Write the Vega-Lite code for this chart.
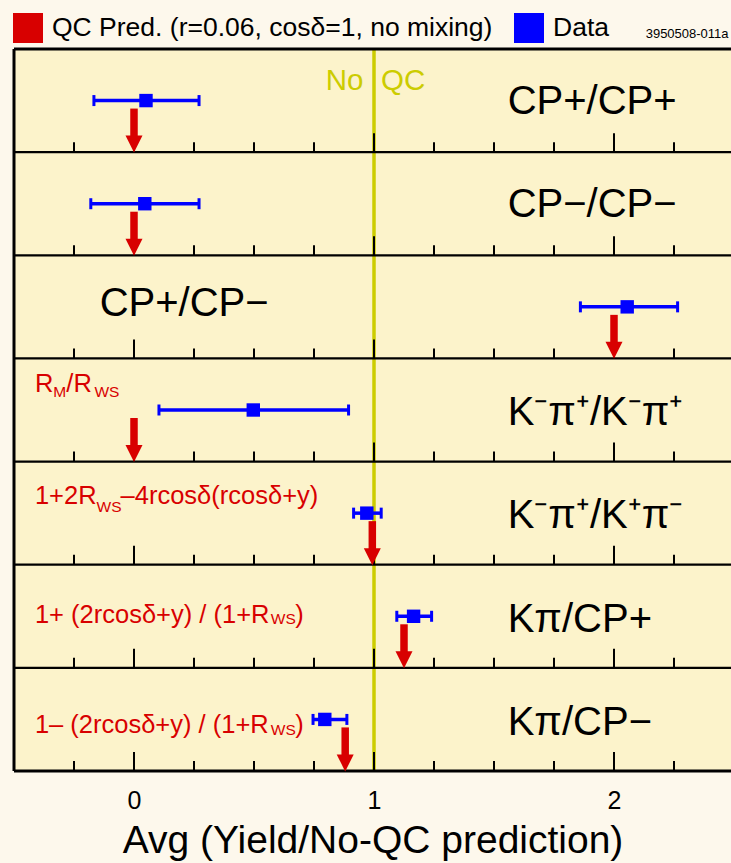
{
  "$schema": "https://vega.github.io/schema/vega-lite/v6.json",
  "width": 717,
  "height": 722,
  "autosize": {"type": "none"},
  "padding": {"left": 14, "top": 49, "right": 0, "bottom": 92},
  "background": "#fdf8ec",
  "config": {
    "view": {"fill": "#fcf3cb", "stroke": null},
    "font": "Liberation Sans",
    "legend": {
      "orient": "none",
      "legendX": -1,
      "legendY": -36,
      "direction": "horizontal",
      "symbolType": "square",
      "symbolSize": 900,
      "symbolStrokeWidth": 0,
      "symbolOpacity": 1,
      "labelFontSize": 26.5,
      "labelFont": "Liberation Sans",
      "labelColor": "#000000",
      "labelOffset": 9,
      "labelLimit": 0,
      "columnPadding": 21,
      "padding": 0
    }
  },
  "datasets": {
    "panels": [
      {"panel": 1, "channel": "CP+/CP+", "val": 0.05, "lo": -0.167, "hi": 0.271, "pred": 0},
      {"panel": 2, "channel": "CP−/CP−", "val": 0.045, "lo": -0.18, "hi": 0.271, "pred": 0},
      {"panel": 3, "channel": "CP+/CP−", "val": 2.055, "lo": 1.86, "hi": 2.265, "pred": 2},
      {"panel": 4, "channel": "K⁻π⁺/K⁻π⁺", "val": 0.497, "lo": 0.104, "hi": 0.894, "pred": 0},
      {"panel": 5, "channel": "K⁻π⁺/K⁺π⁻", "val": 0.97, "lo": 0.915, "hi": 1.03, "pred": 0.993},
      {"panel": 6, "channel": "Kπ/CP+", "val": 1.165, "lo": 1.095, "hi": 1.24, "pred": 1.125},
      {"panel": 7, "channel": "Kπ/CP−", "val": 0.795, "lo": 0.746, "hi": 0.887, "pred": 0.88}
    ],
    "ticks": [
      {"x": -0.25, "major": false, "edge": [1.5, 2.5, 3.5, 4.5, 5.5, 6.5, 7.5]},
      {"x": 0, "major": true, "edge": [1.5, 2.5, 3.5, 4.5, 5.5, 6.5, 7.5]},
      {"x": 0.25, "major": false, "edge": [1.5, 2.5, 3.5, 4.5, 5.5, 6.5, 7.5]},
      {"x": 0.5, "major": false, "edge": [1.5, 2.5, 3.5, 4.5, 5.5, 6.5, 7.5]},
      {"x": 0.75, "major": false, "edge": [1.5, 2.5, 3.5, 4.5, 5.5, 6.5, 7.5]},
      {"x": 1, "major": true, "edge": [1.5, 2.5, 3.5, 4.5, 5.5, 6.5, 7.5]},
      {"x": 1.25, "major": false, "edge": [1.5, 2.5, 3.5, 4.5, 5.5, 6.5, 7.5]},
      {"x": 1.5, "major": false, "edge": [1.5, 2.5, 3.5, 4.5, 5.5, 6.5, 7.5]},
      {"x": 1.75, "major": false, "edge": [1.5, 2.5, 3.5, 4.5, 5.5, 6.5, 7.5]},
      {"x": 2, "major": true, "edge": [1.5, 2.5, 3.5, 4.5, 5.5, 6.5, 7.5]},
      {"x": 2.25, "major": false, "edge": [1.5, 2.5, 3.5, 4.5, 5.5, 6.5, 7.5]}
    ],
    "notes": [
      {"role": "label", "text": "CP+/CP+", "x": 1.557, "y": 1.13},
      {"role": "label", "text": "CP−/CP−", "x": 1.557, "y": 2.126},
      {"role": "label", "text": "CP+/CP−", "x": -0.143, "y": 3.087},
      {"role": "label", "text": "K⁻π⁺/K⁻π⁺", "x": 1.557, "y": 4.146},
      {"role": "label", "text": "K⁻π⁺/K⁺π⁻", "x": 1.557, "y": 5.146},
      {"role": "label", "text": "Kπ/CP+", "x": 1.557, "y": 6.15},
      {"role": "label", "text": "Kπ/CP−", "x": 1.557, "y": 7.15},
      {"role": "formula", "text": "R", "x": -0.413, "y": 3.825},
      {"role": "sub", "text": "M", "x": -0.336, "y": 3.871},
      {"role": "formula", "text": "/R", "x": -0.282, "y": 3.825},
      {"role": "sub", "text": "WS", "x": -0.165, "y": 3.871},
      {"role": "formula", "text": "1+2R", "x": -0.413, "y": 4.912},
      {"role": "sub", "text": "WS", "x": -0.156, "y": 4.986},
      {"role": "formula", "text": "–4rcosδ(rcosδ+y)", "x": -0.056, "y": 4.912},
      {"role": "formula", "text": "1+ (2rcosδ+y) / (1+R", "x": -0.413, "y": 6.065},
      {"role": "sub", "text": "WS", "x": 0.57, "y": 6.078},
      {"role": "formula", "text": ")", "x": 0.672, "y": 6.065},
      {"role": "formula", "text": "1– (2rcosδ+y) / (1+R", "x": -0.413, "y": 7.132},
      {"role": "sub", "text": "WS", "x": 0.57, "y": 7.151},
      {"role": "formula", "text": ")", "x": 0.672, "y": 7.132},
      {"role": "olive-right", "text": "No", "x": 0.956, "y": 0.897},
      {"role": "olive-left", "text": "QC", "x": 1.029, "y": 0.897},
      {"role": "code", "text": "3950508-011a", "x": 2.132, "y": 0.393}
    ]
  },
  "layer": [
    {
      "data": {"values": [{"v": 1}]},
      "mark": {"type": "rule", "color": "#cccc00", "strokeWidth": 3.5},
      "encoding": {
        "x": {"field": "v", "type": "quantitative", "scale": {"domain": [-0.5, 2.4875], "nice": false, "zero": false}}
      }
    },
    {
      "data": {"values": [{"e": 1.5}, {"e": 2.5}, {"e": 3.5}, {"e": 4.5}, {"e": 5.5}, {"e": 6.5}]},
      "mark": {"type": "rule", "color": "#000000", "strokeWidth": 2.3},
      "encoding": {
        "y": {"field": "e", "type": "quantitative", "scale": {"domain": [0.5, 7.5], "reverse": true, "nice": false, "zero": false}, "axis": null}
      }
    },
    {
      "data": {"values": [{"e": 0.5}, {"e": 7.5}]},
      "mark": {"type": "rule", "color": "#000000", "strokeWidth": 3},
      "encoding": {"y": {"field": "e", "type": "quantitative"}}
    },
    {
      "data": {"values": [{"v": -0.5}]},
      "mark": {"type": "rule", "color": "#000000", "strokeWidth": 3},
      "encoding": {"x": {"field": "v", "type": "quantitative"}}
    },
    {
      "data": {"name": "ticks"},
      "transform": [{"flatten": ["edge"]}, {"filter": "!datum.major"}],
      "mark": {"type": "rule", "color": "#000000", "strokeWidth": 2, "y2Offset": -10},
      "encoding": {
        "x": {
          "field": "x",
          "type": "quantitative",
          "axis": {
            "values": [0, 1, 2],
            "format": "d",
            "ticks": false,
            "domain": false,
            "grid": false,
            "labelFontSize": 25,
            "labelFont": "Liberation Sans",
            "labelColor": "#000000",
            "labelPadding": 17,
            "title": "Avg (Yield/No-QC prediction)",
            "titleFont": "Liberation Sans",
            "titleFontSize": 39,
            "titleFontWeight": "normal",
            "titleColor": "#000000",
            "titlePadding": 8
          }
        },
        "y": {"field": "edge", "type": "quantitative"},
        "y2": {"field": "edge"}
      }
    },
    {
      "data": {"name": "ticks"},
      "transform": [{"flatten": ["edge"]}, {"filter": "datum.major"}],
      "mark": {"type": "rule", "color": "#000000", "strokeWidth": 2, "y2Offset": -19},
      "encoding": {
        "x": {"field": "x", "type": "quantitative"},
        "y": {"field": "edge", "type": "quantitative"},
        "y2": {"field": "edge"}
      }
    },
    {
      "data": {"name": "panels"},
      "mark": {"type": "rule", "color": "#0000ff", "strokeWidth": 3.5},
      "encoding": {
        "x": {"field": "lo", "type": "quantitative"},
        "x2": {"field": "hi"},
        "y": {"field": "panel", "type": "quantitative"}
      }
    },
    {
      "data": {"name": "panels"},
      "transform": [{"fold": ["lo", "hi"], "as": ["end", "pos"]}],
      "mark": {"type": "rule", "color": "#0000ff", "strokeWidth": 3, "yOffset": -5.5, "y2Offset": 5.5},
      "encoding": {
        "x": {"field": "pos", "type": "quantitative"},
        "y": {"field": "panel", "type": "quantitative"},
        "y2": {"field": "panel"}
      }
    },
    {
      "data": {"name": "panels"},
      "mark": {"type": "point", "shape": "square", "filled": true, "opacity": 1, "size": 180},
      "encoding": {
        "x": {"field": "val", "type": "quantitative"},
        "y": {"field": "panel", "type": "quantitative"},
        "color": {
          "datum": "Data",
          "type": "nominal",
          "scale": {"domain": ["QC Pred. (r=0.06, cosδ=1, no mixing)", "Data"], "range": ["#d80000", "#0000ff"]},
          "legend": {"title": null}
        }
      }
    },
    {
      "data": {"name": "panels"},
      "mark": {"type": "rule", "color": "#d80000", "strokeWidth": 7.5, "yOffset": 8, "y2Offset": 37},
      "encoding": {
        "x": {"field": "pred", "type": "quantitative"},
        "y": {"field": "panel", "type": "quantitative"},
        "y2": {"field": "panel"}
      }
    },
    {
      "data": {"name": "panels"},
      "mark": {"type": "point", "shape": "M-1,-1L1,-1L0,1Z", "filled": true, "opacity": 1, "size": 289, "yOffset": 43.5},
      "encoding": {
        "x": {"field": "pred", "type": "quantitative"},
        "y": {"field": "panel", "type": "quantitative"},
        "color": {"datum": "QC Pred. (r=0.06, cosδ=1, no mixing)", "type": "nominal"}
      }
    },
    {
      "data": {"name": "notes"},
      "transform": [{"filter": "datum.role === 'label'"}],
      "mark": {"type": "text", "align": "left", "baseline": "alphabetic", "fontSize": 40, "color": "#000000"},
      "encoding": {
        "x": {"field": "x", "type": "quantitative"},
        "y": {"field": "y", "type": "quantitative"},
        "text": {"field": "text"}
      }
    },
    {
      "data": {"name": "notes"},
      "transform": [{"filter": "datum.role === 'formula'"}],
      "mark": {"type": "text", "align": "left", "baseline": "alphabetic", "fontSize": 25.5, "color": "#d80000"},
      "encoding": {
        "x": {"field": "x", "type": "quantitative"},
        "y": {"field": "y", "type": "quantitative"},
        "text": {"field": "text"}
      }
    },
    {
      "data": {"name": "notes"},
      "transform": [{"filter": "datum.role === 'sub'"}],
      "mark": {"type": "text", "align": "left", "baseline": "alphabetic", "fontSize": 15.5, "color": "#d80000"},
      "encoding": {
        "x": {"field": "x", "type": "quantitative"},
        "y": {"field": "y", "type": "quantitative"},
        "text": {"field": "text"}
      }
    },
    {
      "data": {"name": "notes"},
      "transform": [{"filter": "datum.role === 'olive-right'"}],
      "mark": {"type": "text", "align": "right", "baseline": "alphabetic", "fontSize": 29.5, "color": "#cccc00"},
      "encoding": {
        "x": {"field": "x", "type": "quantitative"},
        "y": {"field": "y", "type": "quantitative"},
        "text": {"field": "text"}
      }
    },
    {
      "data": {"name": "notes"},
      "transform": [{"filter": "datum.role === 'olive-left'"}],
      "mark": {"type": "text", "align": "left", "baseline": "alphabetic", "fontSize": 29.5, "color": "#cccc00"},
      "encoding": {
        "x": {"field": "x", "type": "quantitative"},
        "y": {"field": "y", "type": "quantitative"},
        "text": {"field": "text"}
      }
    },
    {
      "data": {"name": "notes"},
      "transform": [{"filter": "datum.role === 'code'"}],
      "mark": {"type": "text", "align": "left", "baseline": "alphabetic", "fontSize": 13, "color": "#000000"},
      "encoding": {
        "x": {"field": "x", "type": "quantitative"},
        "y": {"field": "y", "type": "quantitative"},
        "text": {"field": "text"}
      }
    }
  ]
}
